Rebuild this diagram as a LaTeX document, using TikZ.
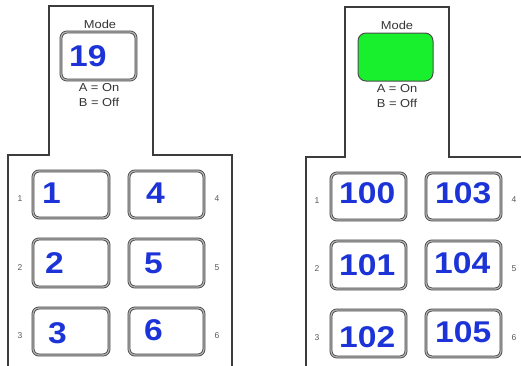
\documentclass[tikz,border=0pt]{standalone}
\usepackage{fontspec}
\newfontfamily\arial{Liberation Sans}
\definecolor{numblue}{RGB}{28,52,215}
\definecolor{panelline}{RGB}{60,60,60}
\definecolor{modegreen}{RGB}{25,240,45}
\definecolor{labgray}{RGB}{90,90,90}
\begin{document}
\begin{tikzpicture}[x=1pt,y=-1pt,
  panel/.style={draw=panelline,line width=1.3pt},
  btn/.style={draw=black!75,double=gray!60,double distance=1.3pt,line width=0.8pt,rounded corners=6pt,inner sep=0pt},
  greenbtn/.style={draw=black!70,fill=modegreen,line width=1pt,rounded corners=8pt,inner sep=0pt},
  num/.style={inner sep=0pt,anchor=base west,text=numblue,font=\arial\bfseries\fontsize{30}{30}\selectfont,xscale=1.12},
  small/.style={inner sep=0pt,text=labgray,font=\arial\fontsize{8.5}{8.5}\selectfont},
  lab/.style={inner sep=0pt,text=black!80,font=\arial\fontsize{11.5}{11.5}\selectfont,xscale=1.12}]
\useasboundingbox (0,0) rectangle (521,365);
% panels
\draw[panel] (8,366) -- (8,155) -- (49,155) -- (49,6) -- (153,6) -- (153,155) -- (232,155) -- (232,366);
\draw[panel] (306,366) -- (306,157) -- (345,157) -- (345,7) -- (449,7) -- (449,157) -- (522,157);
% left mode
\node[btn,minimum width=75pt,minimum height=48pt] (modeL) at (98.5,56) {};
\node[lab] (modeLt) at (100,24) {Mode};
\node[lab] (onL) at (99,88) {A = On};
\node[lab] (offL) at (99,102) {B = Off};
\node[num] (n19) at (69,66) {19};
% right mode
\node[greenbtn,minimum width=75pt,minimum height=48pt] (modeR) at (395.5,57) {};
\node[lab] (modeRt) at (397,25) {Mode};
\node[lab] (onR) at (397,89) {A = On};
\node[lab] (offR) at (397,103) {B = Off};
% left buttons
\node[btn,minimum width=76pt,minimum height=47pt] (b1) at (71,194.5) {};
\node[btn,minimum width=75pt,minimum height=47pt] (b4) at (166.5,194.5) {};
\node[btn,minimum width=76pt,minimum height=48pt] (b2) at (71,263) {};
\node[btn,minimum width=75pt,minimum height=48pt] (b5) at (166.5,263) {};
\node[btn,minimum width=76pt,minimum height=47pt] (b3) at (71,331.5) {};
\node[btn,minimum width=75pt,minimum height=47pt] (b6) at (166.5,331.5) {};
\node[num] (t1) at (42,203) {1};
\node[num] (t4) at (146,203) {4};
\node[num] (t2) at (45,273) {2};
\node[num] (t5) at (144,273) {5};
\node[num] (t3) at (48,343) {3};
\node[num] (t6) at (144,340) {6};
\node[small] (s1) at (20,199) {1};
\node[small] (s2) at (20,268) {2};
\node[small] (s3) at (20,336) {3};
\node[small] (s4) at (217,199) {4};
\node[small] (s5) at (217,268) {5};
\node[small] (s6) at (217,336) {6};
% right buttons
\node[btn,minimum width=75pt,minimum height=47pt] (b100) at (368.5,196.5) {};
\node[btn,minimum width=75pt,minimum height=47pt] (b103) at (463.5,196.5) {};
\node[btn,minimum width=75pt,minimum height=48pt] (b101) at (368.5,265) {};
\node[btn,minimum width=75pt,minimum height=48pt] (b104) at (463.5,265) {};
\node[btn,minimum width=75pt,minimum height=47pt] (b102) at (368.5,333.5) {};
\node[btn,minimum width=75pt,minimum height=47pt] (b105) at (463.5,333.5) {};
\node[num] (t100) at (339,203) {100};
\node[num] (t103) at (435,203) {103};
\node[num] (t101) at (339,275) {101};
\node[num] (t104) at (434,273) {104};
\node[num] (t102) at (339,347) {102};
\node[num] (t105) at (435,342) {105};
\node[small] (r1) at (317,201) {1};
\node[small] (r2) at (317,269) {2};
\node[small] (r3) at (317,338) {3};
\node[small] (r4) at (514,200) {4};
\node[small] (r5) at (514,269) {5};
\node[small] (r6) at (514,338) {6};
\end{tikzpicture}
\end{document}
